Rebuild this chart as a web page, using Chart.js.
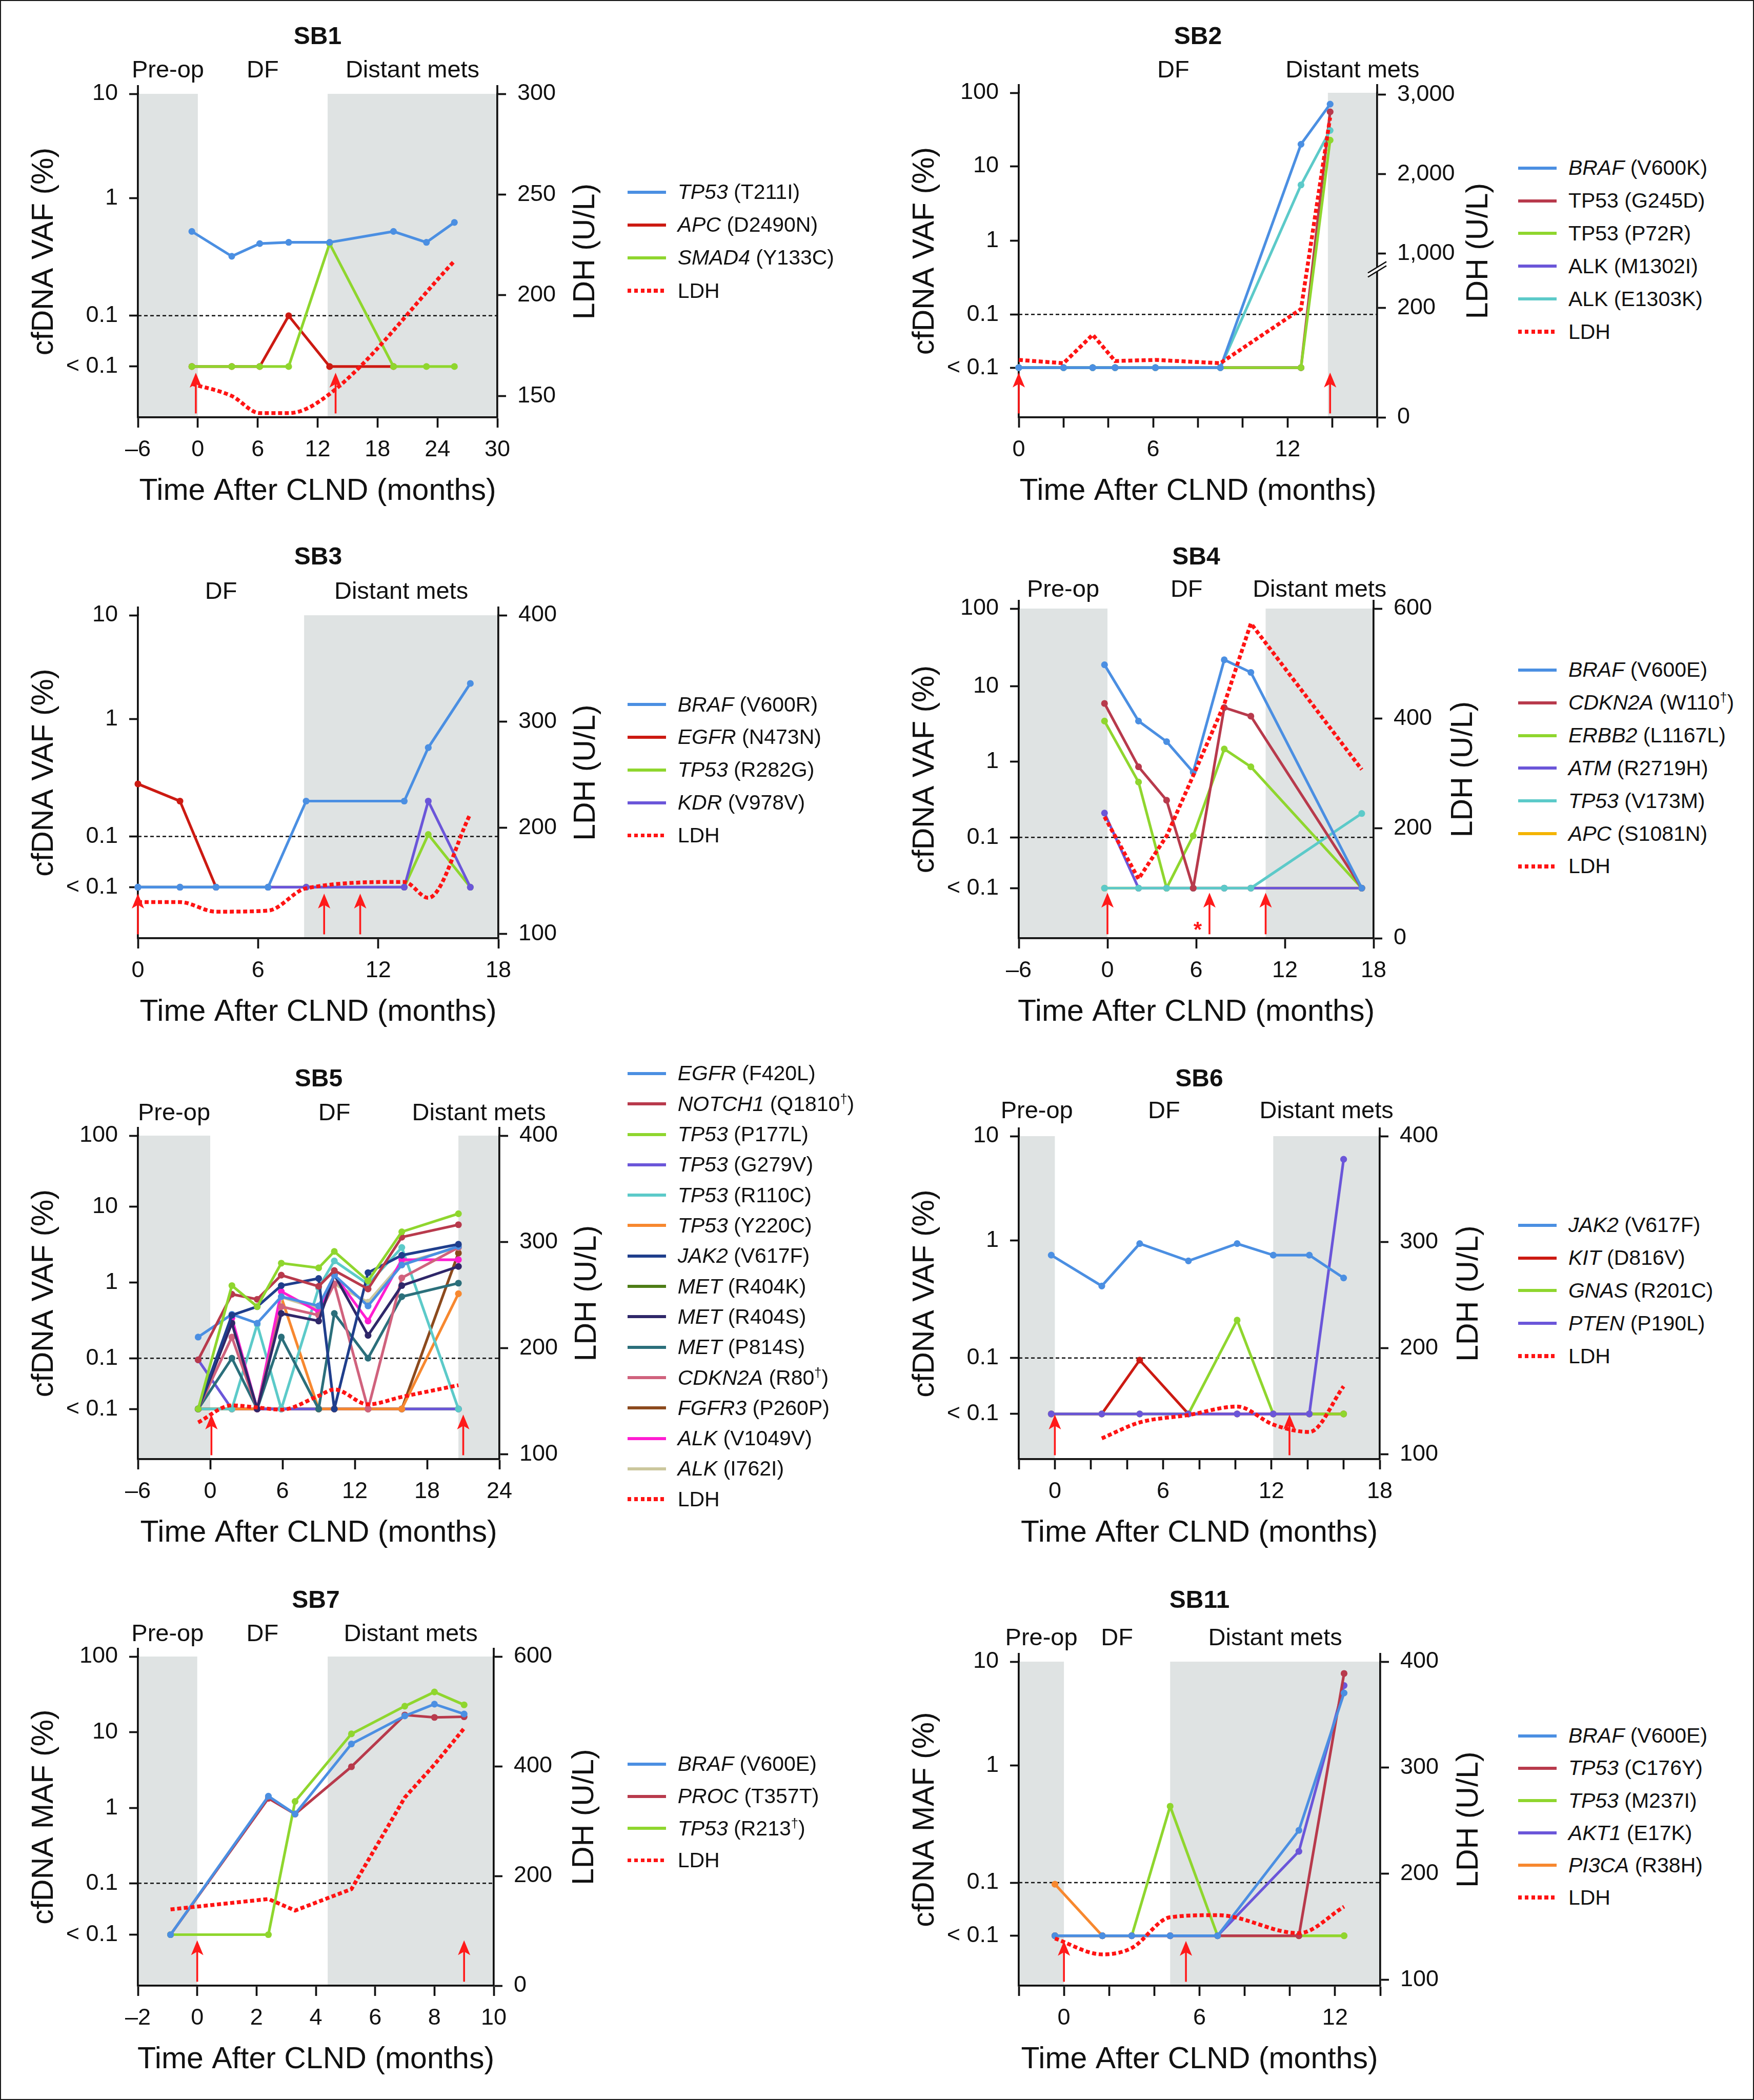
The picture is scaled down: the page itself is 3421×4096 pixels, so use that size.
<!DOCTYPE html>
<html>
<head>
<meta charset="utf-8">
<title>cfDNA VAF and LDH after CLND – SB1 to SB11</title>
<script src="https://cdn.jsdelivr.net/npm/chart.js@4.4.1/dist/chart.umd.min.js"></script>
<style>
  html, body { margin: 0; padding: 0; background: #fff; }
  #fig { position: relative; width: 3421px; height: 4096px; box-sizing: border-box;
         border: 2px solid #1a1a1a; overflow: hidden; background: #fff;
         font-family: "Liberation Sans", Arial, Helvetica, sans-serif; color: #111; }
  #fig canvas { position: absolute; }
  .legend { position: absolute; top: 0; font-size: 41px; line-height: 1; }
  .legend .row { position: absolute; left: 0; height: 50px; display: flex; align-items: center; white-space: nowrap; }
  .legend .sw { display: inline-block; width: 75px; height: 6px; margin-right: 23px; flex: none; }
  .legend .sw.dots { height: 7.5px; background: repeating-linear-gradient(90deg, #ff1414 0 7.5px, transparent 7.5px 12.8px); }
  .legend sup { font-size: 0.62em; vertical-align: 0.6em; line-height: 0; }
</style>
</head>
<body>
<div id="fig"></div>
<script>
/* ── Scale: reference px -> page px ── */
const S = 0.808;
const ND = 0;   // "< 0.1" : below detection

/* ── SB1 ── */
const SB1_MONTHS     = [-0.6, 3.4, 6.2, 9.1, 13.2, 19.6, 22.9, 25.7];
const SB1_TP53       = [0.52, 0.32, 0.41, 0.42, 0.42, 0.52, 0.42, 0.62];
const SB1_APC        = [ND, ND, ND, 0.1, ND, ND, null, null];
const SB1_SMAD4      = [ND, ND, ND, ND, 0.41, ND, ND, ND];
const SB1_LDH_MONTHS = [-0.6, 3.4, 6.2, 9.1, 13.2, 25.7];
const SB1_LDH        = [156, 150, 141.5, 141.5, 151, 217];

/* ── SB2 ── */
const SB2_MONTHS     = [0, 2.0, 3.3, 4.3, 6.1, 9.0, 12.6, 13.9];
const SB2_BRAF       = [ND, ND, ND, ND, ND, ND, 19.9, 70];
const SB2_TP53_G245D = [ND, ND, ND, ND, ND, ND, ND, 55];
const SB2_TP53_P72R  = [ND, ND, ND, ND, ND, ND, ND, 22.6];
const SB2_ALK_M1302I = [ND, ND, ND, ND, ND, ND, ND, null];
const SB2_ALK_E1303K = [ND, ND, ND, ND, ND, ND, 5.6, 30.7];
const SB2_LDH        = [105, 99, 151, 103, 105, 99, 198, 2710];

/* ── SB3 ── */
const SB3_MONTHS = [0, 2.1, 3.9, 6.5, 8.4, 13.3, 14.5, 16.6];
const SB3_BRAF   = [ND, ND, ND, ND, 0.2, 0.2, 0.57, 2.2];
const SB3_EGFR   = [0.28, 0.2, ND, null, null, null, null, null];
const SB3_TP53   = [ND, ND, ND, ND, ND, ND, 0.104, ND];
const SB3_KDR    = [ND, ND, ND, ND, ND, ND, 0.2, ND];
const SB3_LDH    = [130, 130, 121, 122, 143, 149, 134, 213];

/* ── SB4 ── */
const SB4_MONTHS = [-0.2, 2.1, 4.0, 5.8, 7.9, 9.7, 17.2];
const SB4_BRAF   = [18.8, 3.45, 1.85, 0.73, 21.8, 15, ND];
const SB4_CDKN2A = [5.9, 0.86, 0.31, ND, 5.2, 4.0, ND];
const SB4_ERBB2  = [3.45, 0.54, ND, 0.105, 1.48, 0.86, ND];
const SB4_ATM    = [0.21, ND, ND, ND, ND, ND, ND];
const SB4_TP53   = [ND, ND, ND, ND, ND, ND, 0.207];
const SB4_APC    = [ND, ND, ND, ND, ND, ND, ND];
const SB4_LDH    = [221, 108, 186, 296, 426, 573, 307];

/* ── SB5 ── */
const SB5_MONTHS     = [-1.0, 1.8, 3.9, 5.9, 9.0, 10.3, 13.1, 15.9, 20.6];
const SB5_EGFR       = [0.19, 0.38, 0.29, 0.65, 0.49, 1.25, 0.49, 1.7, 3.0];
const SB5_NOTCH1     = [0.095, 0.70, 0.60, 1.25, 0.89, 1.44, 0.82, 3.97, 5.8];
const SB5_TP53_P177L = [ND, 0.91, 0.48, 1.8, 1.56, 2.57, 1.05, 4.67, 8.1];
const SB5_TP53_G279V = [0.095, ND, ND, ND, ND, ND, ND, ND, ND];
const SB5_TP53_R110C = [ND, ND, 0.28, ND, 0.85, 1.93, 0.95, 2.9, ND];
const SB5_TP53_Y220C = [ND, ND, ND, 0.64, ND, ND, ND, ND, 0.71];
const SB5_JAK2       = [ND, 0.37, 0.48, 0.91, 1.13, ND, 1.35, 2.29, 3.2];
const SB5_MET_R404K  = [ND, ND, ND, ND, ND, ND, ND, ND, ND];
const SB5_MET_R404S  = [ND, 0.29, ND, 0.39, 0.31, 1.27, 0.2, 0.91, 1.63];
const SB5_MET_P814S  = [ND, 0.1, ND, 0.19, ND, 0.39, 0.1, 0.65, 0.98];
const SB5_CDKN2A     = [ND, 0.19, ND, 0.48, 0.37, 0.96, ND, 1.15, 2.9];
const SB5_FGFR3      = [ND, ND, ND, ND, ND, ND, ND, ND, 2.45];
const SB5_ALK_V1049V = [ND, 0.34, ND, 0.76, 0.41, 1.25, 0.31, 2.0, 2.0];
const SB5_ALK_I762I  = [ND, 0.3, ND, 0.64, 0.45, 0.95, 0.55, 1.8, 2.9];
const SB5_LDH        = [130, 146, 144, 142, 155, 161, 147, 154, 165];

/* ── SB6 ── */
const SB6_MONTHS     = [-0.2, 2.6, 4.7, 7.4, 10.1, 12.1, 14.1, 16.0];
const SB6_JAK2       = [0.75, 0.41, 0.94, 0.67, 0.94, 0.75, 0.75, 0.48];
const SB6_KIT        = [ND, ND, 0.096, ND, ND, ND, ND, ND];
const SB6_GNAS       = [ND, ND, ND, ND, 0.21, ND, ND, ND];
const SB6_PTEN       = [ND, ND, ND, ND, ND, ND, ND, 6.0];
const SB6_LDH_MONTHS = [2.6, 4.7, 7.4, 10.1, 12.1, 14.1, 16.0];
const SB6_LDH        = [115, 130, 137, 145, 128, 121, 164];

/* ── SB7 ── */
const SB7_MONTHS = [-0.9, 2.4, 3.3, 5.2, 7.0, 8.0, 9.0];
const SB7_BRAF   = [ND, 1.43, 0.83, 7.0, 16.4, 23.5, 17.4];
const SB7_PROC   = [ND, 1.34, 0.83, 3.5, 16.9, 15.7, 16.0];
const SB7_TP53   = [ND, ND, 1.22, 9.5, 22.1, 34, 23];
const SB7_LDH    = [139, 158, 137, 176, 343, 403, 469];

/* ── SB11 ── */
const SB11_MONTHS     = [-0.4, 1.7, 3.0, 4.7, 6.8, 10.4, 12.4];
const SB11_BRAF       = [ND, ND, ND, ND, ND, 0.28, 5.0];
const SB11_TP53_C176Y = [ND, ND, ND, ND, ND, ND, 7.7];
const SB11_TP53_M237I = [ND, ND, ND, 0.45, ND, ND, ND];
const SB11_AKT1       = [ND, ND, ND, ND, ND, 0.185, 5.9];
const SB11_PI3CA      = [0.097, ND, ND, ND, ND, ND, ND];
const SB11_LDH        = [139, 124, 130, 159, 161, 144, 169];

/* ── Axis ticks ── */
const VAF_TICKS_10  = [ND, 0.1, 1, 10];
const VAF_TICKS_100 = [ND, 0.1, 1, 10, 100];
const LDH_TICKS_SB1 = [150, 200, 250, 300];
const LDH_TICKS_SB2 = [0, 200, 1000, 2000, 3000];
const LDH_TICKS_400 = [100, 200, 300, 400];
const LDH_TICKS_600 = [0, 200, 400, 600];

/* ── Palette ── */
const C = {
  blue: '#4b8fe2', red: '#cc1a12', crimson: '#b83a4c', green: '#8fd62e',
  purple: '#6b56d9', cyan: '#5ccac9', orange: '#f7882f', amber: '#f4b400',
  navy: '#1f3e8c', olive: '#4e7d16', indigo: '#2f2769', teal: '#2b6f7b',
  pink: '#d0627d', brown: '#8c4a1d', magenta: '#ff1dd1', beige: '#cbc79d'
};
const LDH_RED = '#ff1414';
const ARROW = '#ff1a1a';
const SHADE = '#dfe3e3';
const INK = '#111';
const FONT = '"Liberation Sans", Arial, Helvetica, sans-serif';

/* ── Panels (geometry in reference px) ── */
const PANELS = [
  {
    title: 'SB1', yTitle: 'cfDNA VAF (%)', rect: [330, 224, 1198, 1005], titleY: 104, phaseY: 184, rDx: 214,
    x: { min: -6, max: 30, step: 6, label: 6 },
    vaf: { ticks: VAF_TICKS_10, fracs: [0.157, 0.314, 0.678, 1] },
    ldhAxis: { ticks: LDH_TICKS_SB1, values: [139.4, 300], fracs: [0, 1] },
    shades: [[-6, 0], [13, 30]],
    phases: [['Pre-op', -6, 0], ['DF', 0, 13], ['Distant mets', 13, 30]],
    arrows: [-0.2, 13.8],
    series: [
      { name: '<i>TP53</i> (T211I)', color: C.blue, t: SB1_MONTHS, v: SB1_TP53, z: 1 },
      { name: '<i>APC</i> (D2490N)', color: C.red, t: SB1_MONTHS, v: SB1_APC, z: 3 },
      { name: '<i>SMAD4</i> (Y133C)', color: C.green, t: SB1_MONTHS, v: SB1_SMAD4, z: 2 }
    ],
    ldh: { t: SB1_LDH_MONTHS, v: SB1_LDH, smooth: true },
    legend: { x: 1512, y: 461, dy: 79.4 }
  },
  {
    title: 'SB2', yTitle: 'cfDNA VAF (%)', rect: [2457, 221, 3322, 1005], titleY: 104, phaseY: 184, rDx: 246,
    x: { min: 0, max: 16, step: 2, label: 6 },
    vaf: { ticks: VAF_TICKS_100, fracs: [0.153, 0.317, 0.544, 0.774, 1] },
    ldhAxis: { ticks: LDH_TICKS_SB2, values: [0, 200, 1000, 3000], fracs: [0, 0.337, 0.504, 0.995] },
    shades: [[13.8, 16]],
    phases: [['DF', 0, 13.8], ['Distant mets', 13.8, 16]],
    arrows: [0, 13.9],
    axisBreak: 0.456,
    series: [
      { name: '<i>BRAF</i> (V600K)', color: C.blue, t: SB2_MONTHS, v: SB2_BRAF, z: 1 },
      { name: 'TP53 (G245D)', color: C.crimson, t: SB2_MONTHS, v: SB2_TP53_G245D, z: 4 },
      { name: 'TP53 (P72R)', color: C.green, t: SB2_MONTHS, v: SB2_TP53_P72R, z: 3 },
      { name: 'ALK (M1302I)', color: C.purple, t: SB2_MONTHS, v: SB2_ALK_M1302I, z: 5 },
      { name: 'ALK (E1303K)', color: C.cyan, t: SB2_MONTHS, v: SB2_ALK_E1303K, z: 2 }
    ],
    ldh: { t: SB2_MONTHS, v: SB2_LDH, smooth: false },
    legend: { x: 3662, y: 403, dy: 79.1 }
  },
  {
    title: 'SB3', yTitle: 'cfDNA VAF (%)', rect: [330, 1482, 1200, 2262], titleY: 1360, phaseY: 1442, rDx: 212,
    x: { min: 0, max: 18, step: 6, label: 6 },
    vaf: { ticks: VAF_TICKS_10, fracs: [0.158, 0.315, 0.679, 1] },
    ldhAxis: { ticks: LDH_TICKS_400, values: [96, 400], fracs: [0, 1] },
    shades: [[8.3, 18]],
    phases: [['DF', 0, 8.3], ['Distant mets', 8.3, 18]],
    arrows: [0, 9.3, 11.1],
    series: [
      { name: '<i>BRAF</i> (V600R)', color: C.blue, t: SB3_MONTHS, v: SB3_BRAF, z: 1 },
      { name: '<i>EGFR</i> (N473N)', color: C.red, t: SB3_MONTHS, v: SB3_EGFR, z: 4 },
      { name: '<i>TP53</i> (R282G)', color: C.green, t: SB3_MONTHS, v: SB3_TP53, z: 3 },
      { name: '<i>KDR</i> (V978V)', color: C.purple, t: SB3_MONTHS, v: SB3_KDR, z: 2 }
    ],
    ldh: { t: SB3_MONTHS, v: SB3_LDH, smooth: true },
    legend: { x: 1512, y: 1698, dy: 79 }
  },
  {
    title: 'SB4', yTitle: 'cfDNA VAF (%)', rect: [2457, 1466, 3313, 2262], titleY: 1360, phaseY: 1437, rDx: 217,
    x: { min: -6, max: 18, step: 6, label: 6 },
    vaf: { ticks: VAF_TICKS_100, fracs: [0.152, 0.306, 0.535, 0.765, 1] },
    ldhAxis: { ticks: LDH_TICKS_600, values: [0, 600], fracs: [0, 1] },
    shades: [[-6, 0], [10.7, 18]],
    phases: [['Pre-op', -6, 0], ['DF', 0, 10.7], ['Distant mets', 10.7, 18]],
    arrows: [0, 6.9, 10.7],
    asterisk: [6.1, 0.035],
    series: [
      { name: '<i>BRAF</i> (V600E)', color: C.blue, t: SB4_MONTHS, v: SB4_BRAF, z: 1 },
      { name: '<i>CDKN2A</i> (W110<sup>†</sup>)', color: C.crimson, t: SB4_MONTHS, v: SB4_CDKN2A, z: 2 },
      { name: '<i>ERBB2</i> (L1167L)', color: C.green, t: SB4_MONTHS, v: SB4_ERBB2, z: 4 },
      { name: '<i>ATM</i> (R2719H)', color: C.purple, t: SB4_MONTHS, v: SB4_ATM, z: 5 },
      { name: '<i>TP53</i> (V173M)', color: C.cyan, t: SB4_MONTHS, v: SB4_TP53, z: 3 },
      { name: '<i>APC</i> (S1081N)', color: C.amber, t: SB4_MONTHS, v: SB4_APC, z: 6 }
    ],
    ldh: { t: SB4_MONTHS, v: SB4_LDH, smooth: false },
    legend: { x: 3662, y: 1615, dy: 79 }
  },
  {
    title: 'SB5', yTitle: 'cfDNA VAF (%)', rect: [330, 2739, 1202, 3520], titleY: 2620, phaseY: 2702, rDx: 213,
    x: { min: -6, max: 24, step: 6, label: 6 },
    vaf: { ticks: VAF_TICKS_100, fracs: [0.155, 0.312, 0.546, 0.780, 1] },
    ldhAxis: { ticks: LDH_TICKS_400, values: [95.4, 400], fracs: [0, 1] },
    shades: [[-6, 0], [20.6, 24]],
    phases: [['Pre-op', -6, 0], ['DF', 0, 20.6], ['Distant mets', 20.6, 24]],
    arrows: [0.1, 21.0],
    series: [
      { name: '<i>EGFR</i> (F420L)', color: C.blue, t: SB5_MONTHS, v: SB5_EGFR, z: 4 },
      { name: '<i>NOTCH1</i> (Q1810<sup>†</sup>)', color: C.crimson, t: SB5_MONTHS, v: SB5_NOTCH1, z: 2 },
      { name: '<i>TP53</i> (P177L)', color: C.green, t: SB5_MONTHS, v: SB5_TP53_P177L, z: 1 },
      { name: '<i>TP53</i> (G279V)', color: C.purple, t: SB5_MONTHS, v: SB5_TP53_G279V, z: 12 },
      { name: '<i>TP53</i> (R110C)', color: C.cyan, t: SB5_MONTHS, v: SB5_TP53_R110C, z: 10 },
      { name: '<i>TP53</i> (Y220C)', color: C.orange, t: SB5_MONTHS, v: SB5_TP53_Y220C, z: 11 },
      { name: '<i>JAK2</i> (V617F)', color: C.navy, t: SB5_MONTHS, v: SB5_JAK2, z: 3 },
      { name: '<i>MET</i> (R404K)', color: C.olive, t: SB5_MONTHS, v: SB5_MET_R404K, z: 14 },
      { name: '<i>MET</i> (R404S)', color: C.indigo, t: SB5_MONTHS, v: SB5_MET_R404S, z: 5 },
      { name: '<i>MET</i> (P814S)', color: C.teal, t: SB5_MONTHS, v: SB5_MET_P814S, z: 9 },
      { name: '<i>CDKN2A</i> (R80<sup>†</sup>)', color: C.pink, t: SB5_MONTHS, v: SB5_CDKN2A, z: 6 },
      { name: '<i>FGFR3</i> (P260P)', color: C.brown, t: SB5_MONTHS, v: SB5_FGFR3, z: 13 },
      { name: '<i>ALK</i> (V1049V)', color: C.magenta, t: SB5_MONTHS, v: SB5_ALK_V1049V, z: 7 },
      { name: '<i>ALK</i> (I762I)', color: C.beige, t: SB5_MONTHS, v: SB5_ALK_I762I, z: 8 }
    ],
    ldh: { t: SB5_MONTHS, v: SB5_LDH, smooth: true },
    legend: { x: 1512, y: 2589, dy: 73.4 }
  },
  {
    title: 'SB6', yTitle: 'cfDNA VAF (%)', rect: [2457, 2740, 3328, 3520], titleY: 2620, phaseY: 2697, rDx: 216,
    x: { min: -2, max: 18, step: 2, label: 6 },
    vaf: { ticks: VAF_TICKS_10, fracs: [0.140, 0.313, 0.677, 1] },
    ldhAxis: { ticks: LDH_TICKS_400, values: [95.4, 400], fracs: [0, 1] },
    shades: [[-2, 0], [12.1, 18]],
    phases: [['Pre-op', -2, 0], ['DF', 0, 12.1], ['Distant mets', 12.1, 18]],
    arrows: [0, 13.0],
    series: [
      { name: '<i>JAK2</i> (V617F)', color: C.blue, t: SB6_MONTHS, v: SB6_JAK2, z: 1 },
      { name: '<i>KIT</i> (D816V)', color: C.red, t: SB6_MONTHS, v: SB6_KIT, z: 4 },
      { name: '<i>GNAS</i> (R201C)', color: C.green, t: SB6_MONTHS, v: SB6_GNAS, z: 3 },
      { name: '<i>PTEN</i> (P190L)', color: C.purple, t: SB6_MONTHS, v: SB6_PTEN, z: 2 }
    ],
    ldh: { t: SB6_LDH_MONTHS, v: SB6_LDH, smooth: true },
    legend: { x: 3662, y: 2955, dy: 79 }
  },
  {
    title: 'SB7', yTitle: 'cfDNA MAF (%)', rect: [330, 3996, 1189, 4790], titleY: 3878, phaseY: 3959, rDx: 220,
    x: { min: -2, max: 10, step: 2, label: 2 },
    vaf: { ticks: VAF_TICKS_100, fracs: [0.155, 0.311, 0.540, 0.770, 1] },
    ldhAxis: { ticks: LDH_TICKS_600, values: [0, 600], fracs: [0, 1] },
    shades: [[-2, 0], [4.4, 10]],
    phases: [['Pre-op', -2, 0], ['DF', 0, 4.4], ['Distant mets', 4.4, 10]],
    arrows: [0, 9.0],
    series: [
      { name: '<i>BRAF</i> (V600E)', color: C.blue, t: SB7_MONTHS, v: SB7_BRAF, z: 1 },
      { name: '<i>PROC</i> (T357T)', color: C.crimson, t: SB7_MONTHS, v: SB7_PROC, z: 3 },
      { name: '<i>TP53</i> (R213<sup>†</sup>)', color: C.green, t: SB7_MONTHS, v: SB7_TP53, z: 2 }
    ],
    ldh: { t: SB7_MONTHS, v: SB7_LDH, smooth: false },
    legend: { x: 1512, y: 4256, dy: 77.5 }
  },
  {
    title: 'SB11', yTitle: 'cfDNA MAF (%)', rect: [2457, 4008, 3330, 4790], titleY: 3878, phaseY: 3969, rDx: 215,
    x: { min: -2, max: 14, step: 2, label: 6 },
    vaf: { ticks: VAF_TICKS_10, fracs: [0.154, 0.318, 0.679, 1] },
    ldhAxis: { ticks: LDH_TICKS_400, values: [94.5, 400], fracs: [0, 1] },
    shades: [[-2, 0], [4.7, 14]],
    phases: [['Pre-op', -2, 0], ['DF', 0, 4.7], ['Distant mets', 4.7, 14]],
    arrows: [0, 5.4],
    series: [
      { name: '<i>BRAF</i> (V600E)', color: C.blue, t: SB11_MONTHS, v: SB11_BRAF, z: 1 },
      { name: '<i>TP53</i> (C176Y)', color: C.crimson, t: SB11_MONTHS, v: SB11_TP53_C176Y, z: 2 },
      { name: '<i>TP53</i> (M237I)', color: C.green, t: SB11_MONTHS, v: SB11_TP53_M237I, z: 3 },
      { name: '<i>AKT1</i> (E17K)', color: C.purple, t: SB11_MONTHS, v: SB11_AKT1, z: 4 },
      { name: '<i>PI3CA</i> (R38H)', color: C.orange, t: SB11_MONTHS, v: SB11_PI3CA, z: 5 }
    ],
    ldh: { t: SB11_MONTHS, v: SB11_LDH, smooth: true },
    legend: { x: 3662, y: 4188, dy: 78 }
  }
];

/* ── Piecewise axis: log decades for VAF (with a "< 0.1" floor), broken linear for LDH ── */
function makeMapper(values, fracs, log) {
  const idx = values.map((v, i) => i).filter(i => !log || values[i] > 0);
  const ndIdx = values.findIndex(v => v <= 0);
  const t = v => (log ? Math.log10(v) : v);
  return v => {
    if (log && v <= 0) return fracs[ndIdx];
    const u = t(v);
    let k = 0;
    while (k < idx.length - 2 && u > t(values[idx[k + 1]])) k++;
    const i0 = idx[k], i1 = idx[k + 1];
    return fracs[i0] + (u - t(values[i0])) / (t(values[i1]) - t(values[i0])) * (fracs[i1] - fracs[i0]);
  };
}

class PiecewiseScale extends Chart.LinearScale {
  static id = 'piecewise';
  static defaults = {};
  buildTicks() {
    return this.options.tickValues.map(v => ({ value: v }));
  }
  getPixelForValue(value) {
    if (!this._map) {
      const o = this.options;
      this._map = makeMapper(o.anchorValues, o.anchorFracs, o.logMode);
    }
    return this.getPixelForDecimal(this._map(value));
  }
  getValueForPixel() { return 0; }
}
Chart.register(PiecewiseScale);

Chart.defaults.font.family = FONT;
Chart.defaults.color = INK;

const PAD = { l: 262, r: 262, t: 172, b: 200 };
const fig = document.getElementById('fig');

function points(t, v) {
  return t.map((x, i) => ({ x, y: v[i] })).filter(p => p.y !== null && p.y !== undefined);
}

function fmtMonth(v) {
  return v < 0 ? '\u2013' + Math.abs(v) : String(Math.abs(v));
}

function axisOpts(position, tickValues, anchorValues, anchorFracs, logMode, label) {
  return {
    type: 'piecewise', position, tickValues, anchorValues, anchorFracs, logMode,
    min: anchorValues[0], max: anchorValues[anchorValues.length - 1],
    ticks: { padding: 22, font: { size: 45 }, color: INK, autoSkip: false, callback: label },
    grid: { drawOnChartArea: false, tickLength: 17, tickWidth: 3.7, tickColor: INK },
    border: { color: INK, width: 3.7 },
    afterFit: sc => {
      sc.width = position === 'left' ? PAD.l : PAD.r;
      sc.paddingTop = 0; sc.paddingBottom = 0;
    }
  };
}

/* ── Shading, threshold, arrows and labels ── */
function panelPlugin(p) {
  return {
    id: 'panel' + p.title,
    beforeDraw(chart) {
      const { ctx, chartArea: a, scales: { x } } = chart;
      ctx.save();
      ctx.fillStyle = SHADE;
      p.shades.forEach(([s, e]) => {
        const x0 = x.getPixelForValue(s), x1 = x.getPixelForValue(e);
        ctx.fillRect(x0, a.top, x1 - x0, a.bottom - a.top);
      });
      ctx.restore();
    },
    beforeDatasetsDraw(chart) {
      const { ctx, chartArea: a, scales: { y } } = chart;
      const py = y.getPixelForValue(0.1);
      ctx.save();
      ctx.strokeStyle = INK;
      ctx.lineWidth = 2.5;
      ctx.setLineDash([7, 5]);
      ctx.beginPath(); ctx.moveTo(a.left, py); ctx.lineTo(a.right, py); ctx.stroke();
      ctx.restore();
    },
    afterDatasetsDraw(chart) {
      const { ctx, chartArea: a, scales: { x } } = chart;
      const h = a.bottom - a.top;
      ctx.save();
      ctx.fillStyle = ctx.strokeStyle = ARROW;
      ctx.lineWidth = 3.6;
      p.arrows.forEach(m => {
        const px = x.getPixelForValue(m), y0 = a.bottom - 0.012 * h, y1 = a.bottom - 0.138 * h;
        ctx.beginPath(); ctx.moveTo(px, y0); ctx.lineTo(px, y1 + 18); ctx.stroke();
        ctx.beginPath();
        ctx.moveTo(px, y1); ctx.lineTo(px + 12, y1 + 29); ctx.lineTo(px, y1 + 22); ctx.lineTo(px - 12, y1 + 29);
        ctx.closePath(); ctx.fill();
      });
      if (p.asterisk) {
        ctx.font = `bold 42px ${FONT}`;
        ctx.textAlign = 'center';
        ctx.textBaseline = 'middle';
        ctx.fillText('*', x.getPixelForValue(p.asterisk[0]), a.bottom - p.asterisk[1] * h + 8);
      }
      ctx.restore();
    },
    afterDraw(chart) {
      const { ctx, chartArea: a, scales: { x } } = chart;
      const cx = (a.left + a.right) / 2, cy = (a.top + a.bottom) / 2 - 8;
      const top = p.rect[1];
      ctx.save();
      // axis lines run a little past the top tick
      ctx.strokeStyle = INK; ctx.lineWidth = 3.7;
      [a.left, a.right].forEach(px => {
        ctx.beginPath(); ctx.moveTo(px, a.top - 17); ctx.lineTo(px, a.top + 1); ctx.stroke();
      });
      if (p.axisBreak) {
        const yb = a.bottom - p.axisBreak * (a.bottom - a.top), xb = a.right;
        ctx.fillStyle = '#fff';
        ctx.beginPath();
        ctx.moveTo(xb - 18, yb + 7); ctx.lineTo(xb + 18, yb - 15); ctx.lineTo(xb + 18, yb - 7); ctx.lineTo(xb - 18, yb + 15);
        ctx.closePath(); ctx.fill();
        ctx.lineWidth = 2.6;
        [[7, -15], [15, -7]].forEach(([d0, d1]) => {
          ctx.beginPath(); ctx.moveTo(xb - 18, yb + d0); ctx.lineTo(xb + 18, yb + d1); ctx.stroke();
        });
      }
      ctx.fillStyle = INK;
      ctx.textAlign = 'center';
      ctx.textBaseline = 'alphabetic';
      ctx.font = `bold 48px ${FONT}`;
      ctx.fillText(p.title, cx, a.top + (p.titleY - top) * S);
      ctx.font = `47px ${FONT}`;
      p.phases.forEach(([lab, s, e]) => ctx.fillText(lab, x.getPixelForValue((s + e) / 2), a.top + (p.phaseY - top) * S));
      ctx.font = `59px ${FONT}`;
      ctx.textBaseline = 'middle';
      ctx.fillText('Time After CLND (months)', cx, a.bottom + 145);
      [[a.left - 182, p.yTitle], [a.right + p.rDx * S, 'LDH (U/L)']].forEach(([tx, txt]) => {
        ctx.save(); ctx.translate(tx, cy); ctx.rotate(-Math.PI / 2); ctx.fillText(txt, 0, 0); ctx.restore();
      });
      ctx.restore();
    }
  };
}

function buildLegend(p) {
  const box = document.createElement('div');
  box.className = 'legend';
  box.style.left = (p.legend.x * S).toFixed(1) + 'px';
  const items = p.series.map(s => ({ html: s.name, color: s.color })).concat([{ html: 'LDH', dots: true }]);
  items.forEach((it, i) => {
    const row = document.createElement('div');
    row.className = 'row';
    row.style.top = ((p.legend.y + i * p.legend.dy) * S - 25).toFixed(1) + 'px';
    const sw = document.createElement('span');
    sw.className = 'sw' + (it.dots ? ' dots' : '');
    if (!it.dots) sw.style.background = it.color;
    const tx = document.createElement('span');
    tx.innerHTML = it.html;
    row.append(sw, tx);
    box.appendChild(row);
  });
  fig.appendChild(box);
}

function buildPanel(p) {
  const L = p.rect[0] * S, T = p.rect[1] * S, R = p.rect[2] * S, B = p.rect[3] * S;
  const w = Math.round(R - L) + PAD.l + PAD.r, h = Math.round(B - T) + PAD.t + PAD.b;
  const cv = document.createElement('canvas');
  cv.width = w; cv.height = h;
  Object.assign(cv.style, { left: '0px', top: '0px', width: w + 'px', height: h + 'px' });
  fig.appendChild(cv);

  const xTicks = [];
  for (let v = p.x.min; v <= p.x.max + 1e-9; v += p.x.step) xTicks.push(v);

  const datasets = p.series.map(s => ({
    label: s.name.replace(/<[^>]+>/g, ''),
    data: points(s.t, s.v),
    yAxisID: 'y', order: s.z,
    borderColor: s.color, backgroundColor: s.color, pointBackgroundColor: s.color,
    borderWidth: 5.2, pointRadius: 6.6, pointBorderWidth: 0, borderJoinStyle: 'round',
    tension: 0, clip: false
  }));
  datasets.push({
    label: 'LDH', data: points(p.ldh.t, p.ldh.v), yAxisID: 'y2', order: 0,
    borderColor: LDH_RED, backgroundColor: LDH_RED, borderWidth: 7.5, borderDash: [8, 5],
    borderCapStyle: 'butt', pointRadius: 0, clip: false,
    tension: p.ldh.smooth ? 0.4 : 0, cubicInterpolationMode: p.ldh.smooth ? 'monotone' : 'default'
  });

  const chart = new Chart(cv, {
    type: 'line',
    data: { datasets },
    options: {
      responsive: false, animation: false, devicePixelRatio: 1, events: [],
      layout: { autoPadding: false, padding: { top: PAD.t, left: 0, right: 0, bottom: 0 } },
      plugins: { legend: { display: false }, title: { display: false }, tooltip: { enabled: false } },
      scales: {
        x: {
          type: 'linear', min: p.x.min, max: p.x.max,
          afterBuildTicks: sc => { sc.ticks = xTicks.map(v => ({ value: v })); },
          ticks: {
            autoSkip: false, maxRotation: 0, padding: 17, font: { size: 45 }, color: INK,
            callback: v => (Math.abs(v % p.x.label) < 1e-9 ? fmtMonth(v) : '')
          },
          grid: { drawOnChartArea: false, tickLength: 20, tickWidth: 3.7, tickColor: INK },
          border: { color: INK, width: 3.7 },
          afterFit: sc => { sc.height = PAD.b; sc.paddingLeft = 0; sc.paddingRight = 0; }
        },
        y: axisOpts('left', p.vaf.ticks, p.vaf.ticks, p.vaf.fracs, true,
          v => (v === ND ? '< 0.1' : String(v))),
        y2: axisOpts('right', p.ldhAxis.ticks, p.ldhAxis.values, p.ldhAxis.fracs, false,
          v => v.toLocaleString('en-US'))
      }
    },
    plugins: [panelPlugin(p)]
  });

  // pin the plot area onto its place in the figure
  const a = chart.chartArea;
  cv.style.left = (L - a.left).toFixed(1) + 'px';
  cv.style.top = (T - a.top).toFixed(1) + 'px';
}

PANELS.forEach(p => { buildPanel(p); buildLegend(p); });
</script>
</body>
</html>
